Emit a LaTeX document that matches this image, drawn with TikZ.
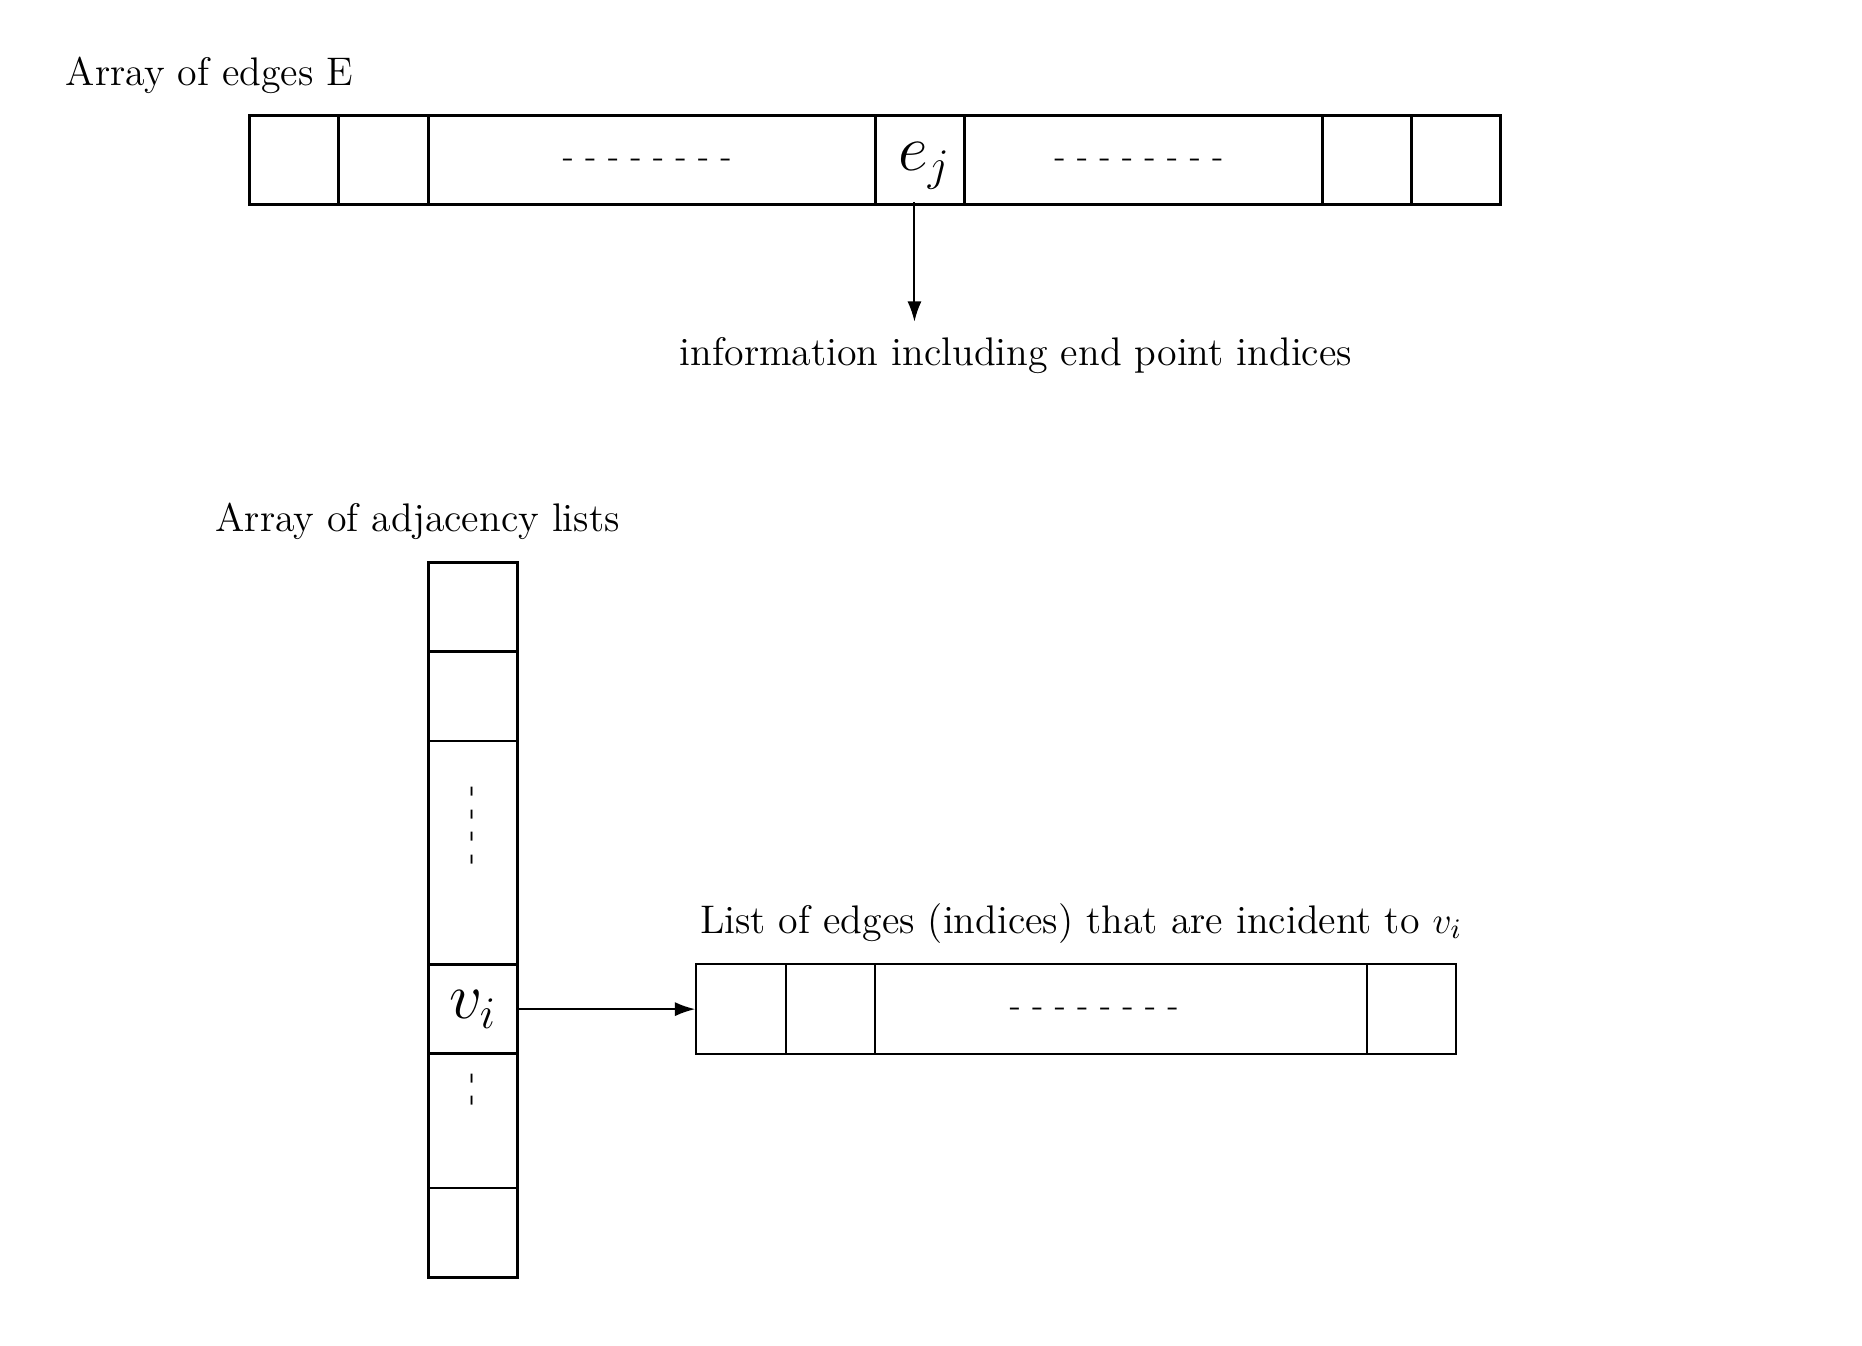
\documentclass[tikz,border=0pt]{standalone}
\usepackage{amsmath}
\usetikzlibrary{arrows.meta}

\begin{document}
\begin{tikzpicture}
  [every node/.style={inner sep=0pt,font=\fontsize{12.7}{15}\selectfont},
   cell/.style={draw,line width=.9pt,minimum width=1cm,minimum height=1cm},
   slot/.style={draw,line width=.65pt,minimum width=1cm,minimum height=1cm},
   big/.style={font=\fontsize{22.4}{26}\selectfont},
   gap/.style={font=\fontsize{11}{13}\selectfont},
   link/.style={-{Latex[length=6.5pt,width=4.5pt]},line width=.65pt}]
  \useasboundingbox (-2.79,1.289) rectangle (18.04,-13.76);

  % array of edges
  \node[anchor=base west] (titleE) at (-2.06,0.337) {Array of edges E};
  \foreach \name/\x/\w in {E1/0.5/1,E2/1.5/1,E3/4.5/5,E5/10/4,E6/12.5/1,E7/13.5/1}
    \node[cell,minimum width=\w cm] (\name) at (\x,-0.5) {};
  \node[cell,label={[big,xshift=.05cm,yshift=-.07cm]center:$e_j$}] (ej) at (7.5,-0.5) {};
  \node[gap] (dotsE1) at (4.45,-0.54) {- - - - - - - -};
  \node[gap] (dotsE2) at (9.95,-0.54) {- - - - - - - -};

  \node[anchor=base west] (info) at (4.81,-2.80) {information including end point indices};
  \draw[link,shorten >=4.8pt] ([xshift=-.06cm,yshift=.04cm]ej.south) -- ([xshift=-.06cm]ej.south |- info.north);

  % array of adjacency lists
  \node[anchor=base west] (titleV) at (-0.385,-4.66) {Array of adjacency lists};
  \foreach \name/\y/\h in {V1/-5.5/1,V2/-6.5/1,V3/-8.25/2.5,V5/-11.25/1.5,V6/-12.5/1}
    \node[cell,minimum height=\h cm] (\name) at (2.5,\y) {};
  \node[cell,big] (vi) at (2.5,-10) {$v_i$};
  \node[gap,rotate=90] (dotsV1) at (2.53,-7.94) {- - - -};
  \node[gap,rotate=90] (dotsV2) at (2.53,-10.89) {- -};

  % list of incident edges
  \node[anchor=base west] (titleL) at (5.035,-9.15) {List of edges (indices) that are incident to $v_i$};
  \foreach \name/\x/\w in {L1/5.5/1,L2/6.5/1,L3/9.75/5.5,L4/13/1}
    \node[slot,minimum width=\w cm] (\name) at (\x,-10) {};
  \node[gap] (dotsL) at (9.45,-10.03) {- - - - - - - -};

  \draw[link] (vi) -- (L1);

\end{tikzpicture}
\end{document}
